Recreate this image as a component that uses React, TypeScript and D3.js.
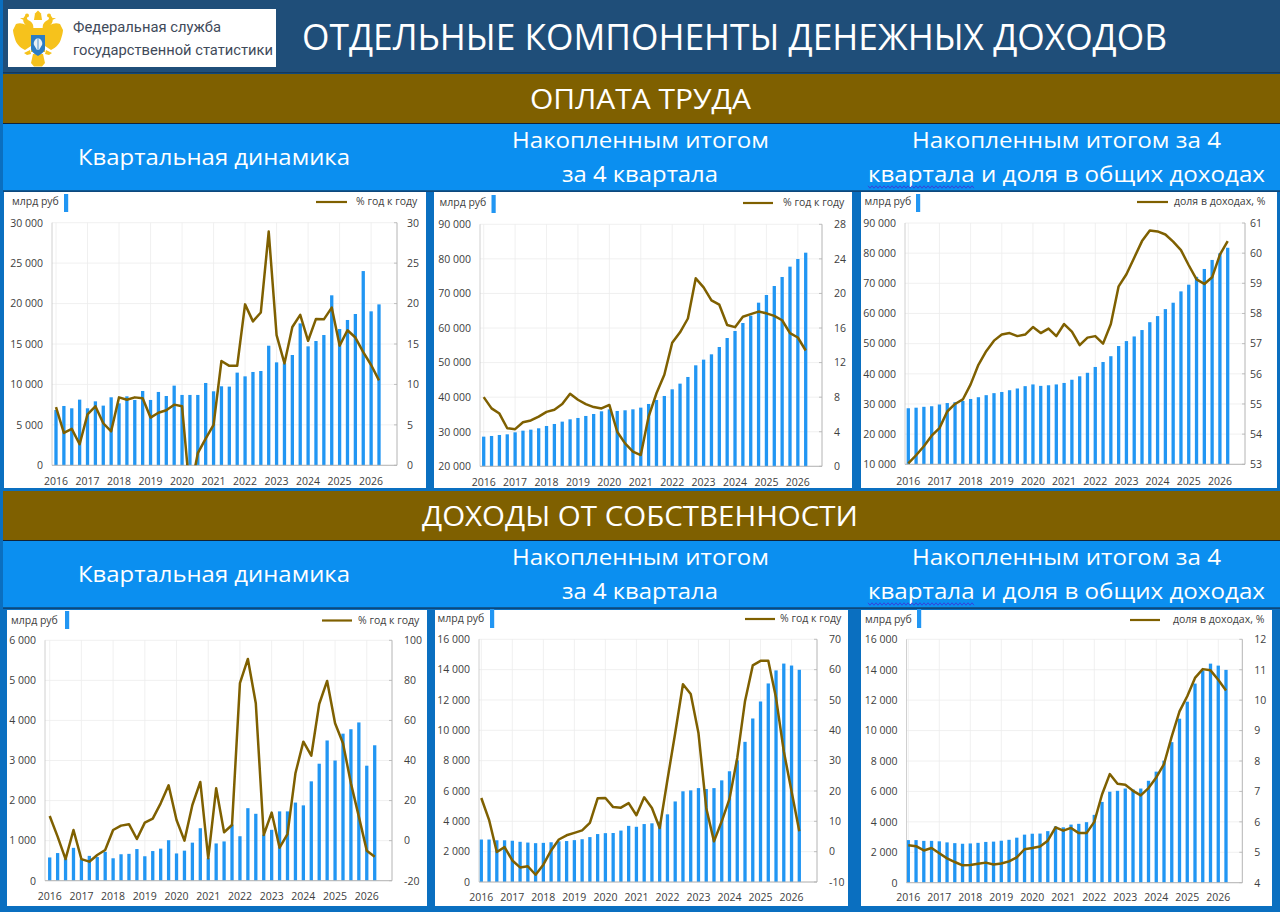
import React from 'react';
import * as d3 from 'd3';

const years = ['2016', '2017', '2018', '2019', '2020', '2021', '2022', '2023', '2024', '2025', '2026'];
// 2016 Q1 .. 2026 Q2
const quarters = d3.range(42).map((i) => `${2016 + Math.floor(i / 4)}Q${(i % 4) + 1}`);

const wagesQuarterly = [
  6840, 7335, 7050, 8120, 7050, 7910, 7380, 8410, 7665, 8530, 8080, 9190, 8080, 9070, 8570, 9850,
  8700, 8700, 8700, 10180, 9150, 9770, 9730, 11460, 11000, 11540, 11660, 14790, 12730, 12610, 13640, 17550,
  14710, 15370, 16110, 21020, 16850, 17970, 18710, 24020, 19040, 19900,
];
const wagesQuarterlyYoy = [
  7.2, 4.0, 4.5, 2.6, 6.3, 7.3, 5.2, 4.2, 8.4, 8.1, 8.4, 8.3, 5.9, 6.5, 6.8, 7.5,
  7.3, -3.5, 1.5, 3.3, 5.0, 12.9, 12.3, 12.3, 19.9, 17.8, 18.9, 28.9, 16.1, 12.6, 17.1, 18.6,
  15.4, 18.1, 18.05, 19.5, 14.8, 16.7, 15.8, 14.0, 12.4, 10.5,
];
const wagesCumulative = [
  28580, 28770, 29060, 29250, 29830, 30310, 30600, 30990, 31660, 32240, 32920, 33590, 33980, 34560, 35130, 35910,
  36480, 36000, 36200, 36480, 36970, 38030, 39180, 40340, 42270, 43910, 45840, 49210, 50850, 52390, 54510, 57110,
  59140, 61450, 63570, 67330, 69550, 72150, 74760, 77750, 79960, 81790,
];
const wagesCumulativeYoy = [
  8.0, 6.7, 6.1, 4.4, 4.3, 5.1, 5.3, 5.75, 6.3, 6.55, 7.2, 8.4, 7.7, 7.2, 6.85, 6.7,
  7.1, 4.0, 2.65, 1.7, 1.3, 5.75, 8.45, 10.6, 14.3, 15.5, 17.1, 21.75, 20.7, 19.2, 18.7, 16.35,
  16.1, 17.3, 17.6, 17.9, 17.7, 17.4, 16.9, 15.4, 14.9, 13.4,
];
const wagesShare = [
  53.03, 53.3, 53.6, 53.95, 54.2, 54.75, 55.0, 55.15, 55.65, 56.3, 56.75, 57.1, 57.3, 57.35, 57.25, 57.3,
  57.55, 57.35, 57.5, 57.25, 57.65, 57.4, 56.95, 57.2, 57.25, 57.0, 57.65, 58.9, 59.3, 59.85, 60.4, 60.75,
  60.72, 60.62, 60.38, 60.1, 59.6, 59.13, 58.98, 59.2, 59.95, 60.4,
];
const propertyQuarterly = [
  580, 690, 550, 820, 530, 620, 590, 720, 560, 660, 670, 790, 610, 740, 800, 1010,
  680, 750, 950, 1310, 560, 930, 980, 1400, 1110, 1810, 1670, 1150, 1270, 1730, 1730, 1950,
  1880, 2480, 2920, 3500, 3000, 3670, 3780, 3950, 2870, 3380,
];
const propertyQuarterlyYoy = [
  12.3, 2.0, -9.2, 5.3, -9.2, -10.5, -7.2, -4.7, 5.3, 7.5, 8.2, 0.8, 9.0, 11.0, 18.6, 27.6,
  10.3, 0, 17.8, 29.3, -8.8, 26.1, 4.2, 7.8, 78.6, 90.7, 68.6, 2.8, 14, -3.5, 3.3, 33.6,
  49.4, 42.4, 68.2, 79.7, 58.6, 48.6, 28.6, 12, -5, -8,
];
const propertyCumulative = [
  2800, 2800, 2750, 2750, 2720, 2650, 2600, 2560, 2580, 2620, 2680, 2700, 2760, 2820, 2960, 3160,
  3220, 3230, 3390, 3700, 3640, 3820, 3870, 3980, 4460, 5310, 5980, 6040, 6190, 6130, 6190, 6700,
  7300, 8020, 9240, 10780, 11900, 13090, 13950, 14400, 14270, 13990,
];
const propertyCumulativeYoy = [
  17.7, 10.5, -0.1, 1.5, -2.9, -5.2, -4.8, -7.6, -4.3, 0.4, 4.0, 5.4, 6.2, 7.0, 9.5, 17.6,
  17.7, 14.7, 14.5, 16.0, 12.0, 17.9, 14.4, 7.8, 23.7, 39.1, 55.2, 52, 39.1, 14.4, 3.4, 10,
  17.4, 30.9, 49.6, 61.4, 62.9, 62.9, 50.7, 33.1, 19.9, 6.7,
];
const propertyShare = [
  5.23, 5.2, 5.06, 5.14, 4.97, 4.8, 4.68, 4.57, 4.58, 4.62, 4.66, 4.6, 4.63, 4.7, 4.83, 5.1,
  5.14, 5.19, 5.38, 5.82, 5.71, 5.8, 5.63, 5.63, 6.0, 6.9, 7.57, 7.25, 7.22, 7.02, 6.87, 7.11,
  7.46, 7.9, 8.81, 9.63, 10.13, 10.73, 11.02, 10.98, 10.67, 10.32,
];

const UI_FONT = '"Open Sans", sans-serif';
const BAR = '#2196f3';
const LINE = '#7f6000';
const BORDER = '#0a6fc0';
const HEAD_BLUE = '#0b8ff0';

const fmt = (v: number) => d3.format(',')(v).replace(/,/g, ' ');

interface ChartConf {
  id: string;
  box: [number, number, number, number]; // white panel x0,y0,x1,y1
  first: number;
  last: number;
  axisL: number;
  axisR: number;
  top: number;
  bottom: number;
  bars: number[];
  line: number[];
  barDomain: [number, number];
  barStep: number;
  lineDomain: [number, number];
  lineStep: number;
  lineName: string;
  legendY: number;
  unitX: number;
  swatchX: number;
  swatchY: [number, number];
  lineX: [number, number];
  lineTextX: number;
  rightGap: number;
  yearY: number;
}

const charts: ChartConf[] = [
  { id: 'c1', box: [4, 192, 426, 488], first: 56, last: 379, axisL: 52, axisR: 397, top: 222.7, bottom: 465.3,
    bars: wagesQuarterly, line: wagesQuarterlyYoy, barDomain: [0, 30000], barStep: 5000, lineDomain: [0, 30], lineStep: 5,
    lineName: '% год к году', legendY: 202, unitX: 12, swatchX: 64, swatchY: [194, 212], lineX: [316, 347], lineTextX: 356, rightGap: 10, yearY: 481 },
  { id: 'c2', box: [434, 192, 852, 488], first: 483.7, last: 805.7, axisL: 480, axisR: 822, top: 224.3, bottom: 466.3,
    bars: wagesCumulative, line: wagesCumulativeYoy, barDomain: [20000, 90000], barStep: 10000, lineDomain: [0, 28], lineStep: 4,
    lineName: '% год к году', legendY: 203, unitX: 439.5, swatchX: 491.5, swatchY: [195, 213], lineX: [743, 773], lineTextX: 783, rightGap: 12, yearY: 482 },
  { id: 'c3', box: [861, 192, 1277, 488], first: 908.3, last: 1227.7, axisL: 905, axisR: 1245, top: 223, bottom: 464.3,
    bars: wagesCumulative, line: wagesShare, barDomain: [10000, 90000], barStep: 10000, lineDomain: [53, 61], lineStep: 1,
    lineName: 'доля в доходах, %', legendY: 202, unitX: 864.5, swatchX: 916, swatchY: [194, 212], lineX: [1137, 1168], lineTextX: 1174, rightGap: 5, yearY: 481 },
  { id: 'c4', box: [7, 610, 427, 906], first: 49.7, last: 374.7, axisL: 45, axisR: 392, top: 640.3, bottom: 880.7,
    bars: propertyQuarterly, line: propertyQuarterlyYoy, barDomain: [0, 6000], barStep: 1000, lineDomain: [-20, 100], lineStep: 20,
    lineName: '% год к году', legendY: 620.5, unitX: 11, swatchX: 65, swatchY: [611, 629], lineX: [322, 352], lineTextX: 358, rightGap: 12, yearY: 896 },
  { id: 'c5', box: [435, 610, 848, 906], first: 481.3, last: 799.3, axisL: 479, axisR: 817, top: 639.3, bottom: 882,
    bars: propertyCumulative, line: propertyCumulativeYoy, barDomain: [0, 16000], barStep: 2000, lineDomain: [-10, 70], lineStep: 10,
    lineName: '% год к году', legendY: 619, unitX: 437.5, swatchX: 490, swatchY: [609, 628], lineX: [745, 775], lineTextX: 780, rightGap: 12, yearY: 897 },
  { id: 'c6', box: [861, 610, 1272, 906], first: 908.3, last: 1226, axisL: 906.5, axisR: 1242.3, top: 639.3, bottom: 882.7,
    bars: propertyCumulative, line: propertyShare, barDomain: [0, 16000], barStep: 2000, lineDomain: [4, 12], lineStep: 1,
    lineName: 'доля в доходах, %', legendY: 620, unitX: 865, swatchX: 917, swatchY: [609, 628], lineX: [1130, 1160], lineTextX: 1173, rightGap: 12, yearY: 897 },
];

const Chart: React.FC<{ c: ChartConf }> = ({ c }) => {
  const x = d3.scalePoint<string>().domain(quarters).range([c.first, c.last]);
  const yL = d3.scaleLinear().domain(c.barDomain).range([c.bottom, c.top]);
  const yR = d3.scaleLinear().domain(c.lineDomain).range([c.bottom, c.top]);
  const leftTicks = d3.range(c.barDomain[0], c.barDomain[1] + 1, c.barStep);
  const rightTicks = d3.range(c.lineDomain[0], c.lineDomain[1] + 0.001, c.lineStep);
  const path = d3
    .line<number>()
    .x((_, i) => x(quarters[i]) as number)
    .y((d) => yR(d))(c.line) as string;
  const [bx0, by0, bx1, by1] = c.box;
  const barW = 3.3;
  return (
    <g fontFamily={UI_FONT} fill="#404040">
      <rect x={bx0} y={by0} width={bx1 - bx0} height={by1 - by0} fill="#fff" />
      <clipPath id={`${c.id}-clip`}>
        <rect x={c.axisL} y={c.top - 8} width={c.axisR - c.axisL} height={c.bottom - c.top + 8} />
      </clipPath>
      {leftTicks.map((t) => (
        <line key={t} x1={c.axisL} x2={c.axisR} y1={yL(t)} y2={yL(t)} stroke="#ececec" strokeWidth={0.8} />
      ))}
      {years.map((yr) => (
        <line key={yr} x1={x(`${yr}Q1`)} x2={x(`${yr}Q1`)} y1={c.top} y2={c.bottom} stroke="#ececec" strokeWidth={0.8} />
      ))}
      {c.bars.map((v, i) => (
        <rect key={i} x={(x(quarters[i]) as number) - barW / 2} y={yL(v)} width={barW} height={c.bottom - yL(v)} fill={BAR} />
      ))}
      <line x1={c.axisL} x2={c.axisL} y1={c.top} y2={c.bottom} stroke="#c4c4c4" strokeWidth={0.8} />
      <line x1={c.axisR} x2={c.axisR} y1={c.top} y2={c.bottom} stroke="#b4b4b4" strokeWidth={1} />
      <line x1={c.axisL} x2={c.axisR} y1={c.bottom} y2={c.bottom} stroke="#b4b4b4" strokeWidth={1} />
      {rightTicks.map((t) => (
        <line key={t} x1={c.axisR - 3} x2={c.axisR} y1={yR(t)} y2={yR(t)} stroke="#b4b4b4" strokeWidth={0.8} />
      ))}
      <path d={path} fill="none" stroke={LINE} strokeWidth={2.5} strokeLinejoin="round" clipPath={`url(#${c.id}-clip)`} />
      {leftTicks.map((t) => (
        <text key={t} x={c.axisL - 9} y={yL(t) + 3.8} textAnchor="end" fontSize={10.5}>{fmt(t)}</text>
      ))}
      {rightTicks.map((t) => (
        <text key={t} x={c.axisR + c.rightGap} y={yR(t) + 3.8} fontSize={10.5}>{t}</text>
      ))}
      {years.map((yr) => (
        <text key={yr} x={x(`${yr}Q1`)} y={c.yearY + 3.8} textAnchor="middle" fontSize={10.5}>{yr}</text>
      ))}
      <text x={c.unitX} y={c.legendY + 3.4} fontSize={10.5}>млрд руб</text>
      <rect x={c.swatchX} y={c.swatchY[0]} width={4.2} height={c.swatchY[1] - c.swatchY[0]} fill={BAR} />
      <line x1={c.lineX[0]} x2={c.lineX[1]} y1={c.legendY} y2={c.legendY} stroke={LINE} strokeWidth={2.2} />
      <text x={c.lineTextX} y={c.legendY + 3.4} fontSize={10.5}>{c.lineName}</text>
    </g>
  );
};

// white header text stretched to the measured width
const Fit: React.FC<{ x0: number; x1: number; y: number; size: number; children: string }> = ({ x0, x1, y, size, children }) => (
  <text x={x0} y={y} fontSize={size} fontFamily={UI_FONT} fill="#fff" textLength={x1 - x0} lengthAdjust="spacingAndGlyphs">
    {children}
  </text>
);

const wavePath = (x0: number, x1: number, y: number) => {
  const pts: [number, number][] = d3.range(x0, x1 + 0.1, 2).map((px, i) => [px, y + (i % 2 ? 1.2 : -1.2)]);
  return d3.line()(pts) as string;
};

const Section: React.FC<{ y: number; name: string; nx0: number; nx1: number }> = ({ y, name, nx0, nx1 }) => (
  <g>
    <rect x={3} y={y} width={1277} height={49} fill={LINE} />
    <line x1={3} x2={1280} y1={y + 49.5} y2={y + 49.5} stroke="#10233a" strokeWidth={1} />
    <rect x={3} y={y + 50} width={1277} height={67} fill={HEAD_BLUE} />
    <line x1={3} x2={1280} y1={y + 117} y2={y + 117} stroke="#10233a" strokeWidth={1} />
    <Fit x0={nx0} x1={nx1} y={y + 35} size={28}>{name}</Fit>
    <Fit x0={78} x1={350} y={y + 91} size={22}>Квартальная динамика</Fit>
    <Fit x0={512} x1={769} y={y + 74} size={22}>Накопленным итогом</Fit>
    <Fit x0={562} x1={718} y={y + 108} size={22}>за 4 квартала</Fit>
    <Fit x0={912} x1={1221} y={y + 74} size={22}>Накопленным итогом за 4</Fit>
    <Fit x0={868} x1={1265} y={y + 108} size={22}>квартала и доля в общих доходах</Fit>
    <path d={wavePath(868, 975, y + 113)} fill="none" stroke="#3a3ad8" strokeWidth={0.9} />
  </g>
);

// one wing, drawn for the left side and mirrored about x=38 for the right
const Wing: React.FC<{ flip?: boolean }> = ({ flip }) => (
  <g transform={flip ? 'translate(76,0) scale(-1,1)' : undefined} fill="#f6c21c">
    <path d="M33 30 C27 24 21 22 16 24 L13 30 C13 32 14 36 15 39 C16 43 20 48 25 50 L31 46 Z" />
    <path d="M33 30 C34 26 33 23 30 21 C27 20 26 18 28 15 C24 15 22 19 24 23 C26 26 28 28 30 31 Z" />
    <circle cx={27} cy={15.5} r={2} />
    <path d="M24 18 L20 18 L23.5 20 Z" />
    <path d="M30 50 L24 53 L27 55 L31 54 Z" />
  </g>
);

const Logo: React.FC = () => (
  <g>
    <rect x={8} y={9} width={268} height={58} fill="#fff" />
    <Wing />
    <Wing flip />
    <g fill="#f6c21c">
      <path d="M34 20 L35 13.5 L38 10.5 L41 13.5 L42 20 Z" />
      <path d="M31 28 H45 V52 H31 Z" />
      <path d="M33 54 L43 54 L45 63 L42 66.5 L34 66.5 L31 63 Z" />
    </g>
    <path d="M31 35 H45 V48 C45 52 41 54 38 56 C35 54 31 52 31 48 Z" fill="#2b7cc4" />
    <path d="M38 38 C41 39 43 42 42 45 L39 50 H37 L34 45 C33 42 35 39 38 38 Z" fill="#e8f0f6" />
    <path d="M37.6 38 H38.4 V52 H37.6 Z" fill="#2b7cc4" />
    <text x={73} y={31.5} fontSize={14} fontFamily="Roboto, sans-serif" fill="#3f4a5a" textLength={148} lengthAdjust="spacingAndGlyphs">Федеральная служба</text>
    <text x={73} y={55} fontSize={14} fontFamily="Roboto, sans-serif" fill="#3f4a5a" textLength={200} lengthAdjust="spacingAndGlyphs">государственной статистики</text>
  </g>
);

export default function App() {
  return (
    <svg width={1280} height={912} viewBox="0 0 1280 912" style={{ position: 'absolute', left: 0, top: 0, display: 'block' }}>
      <rect width={1280} height={912} fill={BORDER} />
      <rect x={3} y={0} width={1277} height={73} fill="#1f4e79" />
      <line x1={3} x2={1280} y1={73} y2={73} stroke="#10233a" strokeWidth={1} />
      <Logo />
      <Fit x0={302} x1={1167} y={50} size={36}>ОТДЕЛЬНЫЕ КОМПОНЕНТЫ ДЕНЕЖНЫХ ДОХОДОВ</Fit>
      <Section y={74} name="ОПЛАТА ТРУДА" nx0={530} nx1={751} />
      <Section y={491} name="ДОХОДЫ ОТ СОБСТВЕННОСТИ" nx0={422} nx1={858} />
      {charts.map((c) => (
        <Chart key={c.id} c={c} />
      ))}
    </svg>
  );
}
